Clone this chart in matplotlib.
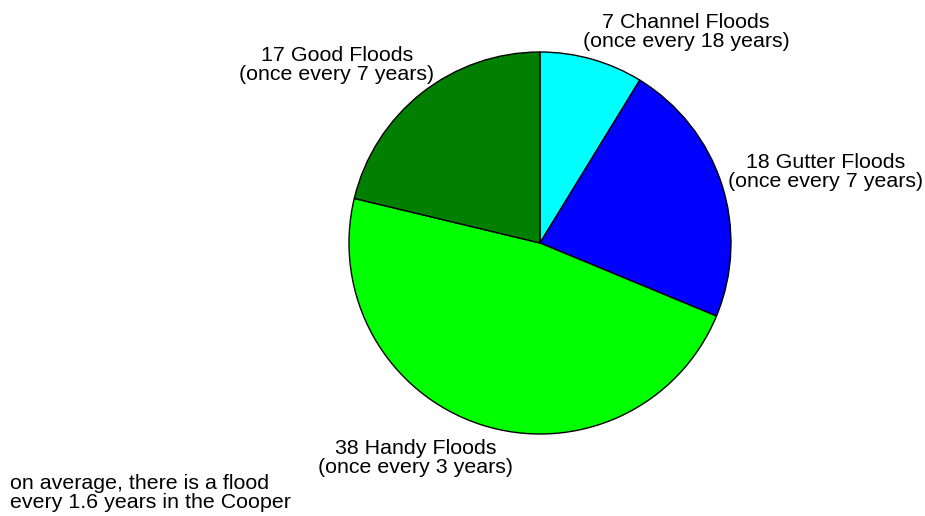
import matplotlib.pyplot as plt

plt.rcParams['font.family'] = ['Liberation Sans', 'DejaVu Sans']

# flood counts, clockwise from 12 o'clock
floods = [7, 18, 38, 17]
colors = ['#00ffff', '#0000ff', '#00ff00', '#007f00']
labels = ['7 Channel Floods\n(once every 18 years)',
          '18 Gutter Floods\n(once every 7 years)',
          '38 Handy Floods\n(once every 3 years)',
          '17 Good Floods\n(once every 7 years)']
note = 'on average, there is a flood\nevery 1.6 years in the Cooper'

W, H = 925, 516
fig = plt.figure(figsize=(W / 100, H / 100), dpi=100)
ax = fig.add_axes([0, 0, 1, 1])
ax.set_xlim(0, W)
ax.set_ylim(0, H)
ax.set_aspect('equal')
ax.axis('off')

cx, cy, r = 540, H - 243, 191
ax.pie(floods, colors=colors, startangle=90, counterclock=False,
       center=(cx, cy), radius=r,
       wedgeprops=dict(edgecolor='black', linewidth=1))
ax.set_xlim(0, W)
ax.set_ylim(0, H)

# label anchors (last-line baselines, pixel coords from top)
label_pos = [(686, 47), (826, 187), (416, 473), (337, 80)]
for txt, (x, y) in zip(labels, label_pos):
    ax.text(x, H - y, txt, ha='center', va='baseline', fontsize=15.4,
            linespacing=1.02)

ax.text(10, H - 508, note, ha='left', va='baseline', fontsize=15.4,
        linespacing=1.02)

fig.savefig('out.png', dpi=100)
